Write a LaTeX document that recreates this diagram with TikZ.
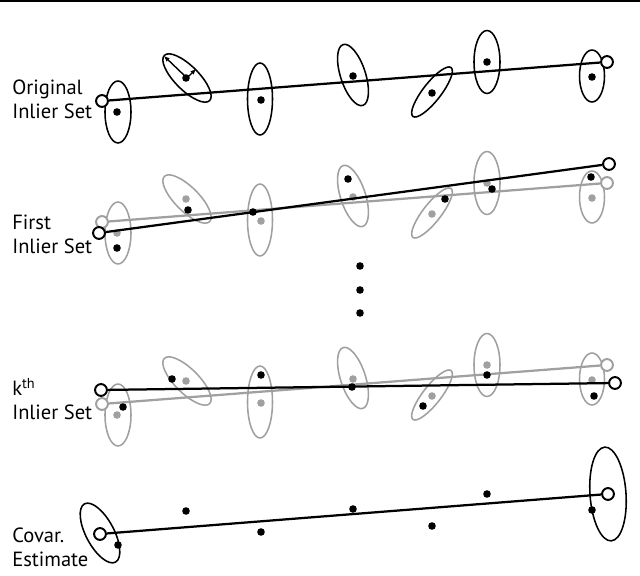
\documentclass[tikz,border=0pt]{standalone}
\usepackage{fontspec}
\setmainfont{PT Sans}
\usepackage{tikz}
\usetikzlibrary{arrows.meta}
\definecolor{oldgray}{HTML}{A0A0A0}
\tikzset{
  covell/.style={
    draw=black,
    line width=1.1pt
  },
  oldcovell/.style={
    covell,
    draw=oldgray
  },
  inlier/.style={
    circle,
    fill=black,
    inner sep=0pt,
    minimum size=5.4pt
  },
  oldinlier/.style={
    inlier,
    fill=oldgray
  },
  endpt/.style={
    circle,
    draw=black,
    fill=white,
    line width=1.4pt,
    inner sep=0pt,
    minimum size=8.4pt
  },
  oldendpt/.style={
    endpt,
    draw=oldgray
  },
  fitline/.style={
    line width=1.6pt,
    draw=black
  },
  oldfitline/.style={
    fitline,
    draw=oldgray
  },
  rowlabel/.style={
    anchor=base west,
    align=left,
    inner sep=0pt,
    font=\fontsize{14.6}{17.5}\selectfont
  },
  axisarrow/.style={
    -{Latex[length=4pt,width=3.5pt]},
    line width=1pt
  }
}

\begin{document}
\begin{tikzpicture}[x=0.025cm, y=-0.025cm]
    \useasboundingbox (0,0) rectangle (640,576);
    \coordinate (ruleL) at (0,1);
    \coordinate (ruleR) at (640,1);
    \draw[line width=1.5pt] (ruleL) -- (ruleR);

    % row labels (placed at the baseline of their last line)
    \node[rowlabel] (lab1) at (12,119) {Original\\Inlier Set};
    \node[rowlabel] (lab2) at (12,254) {First\\Inlier Set};
    \node[rowlabel] (lab3) at (12,420) {k\textsuperscript{th}\\Inlier Set};
    \node[rowlabel] (lab4) at (12,567) {Covar.\\Estimate};

    % covariance ellipses of the original set, repeated in grey below
    \foreach \dy/\sty in {121/oldcovell, 303/oldcovell, 0/covell}
      \foreach \x/\y/\rx/\ry/\ang in {118/112/13/31/0, 187/78/12/32/45, 260/99/12.5/36/0,
          353/75/12.5/32/18, 432/92/9/31/-38, 487/62/13/31.5/0, 592/76/12.5/26/0}
        \draw[\sty, rotate around={\ang:(\x,\y+\dy)}] (\x,\y+\dy) ellipse [x radius=\rx, y radius=\ry];

    % old fits in grey
    \node[oldendpt] (f0L) at (102,222) {};
    \node[oldendpt] (f0R) at (607,183) {};
    \draw[oldfitline] (f0L) -- (f0R);
    \node[oldendpt] (k0L) at (102,404) {};
    \node[oldendpt] (k0R) at (607,365) {};
    \draw[oldfitline] (k0L) -- (k0R);

    % original inliers
    \foreach \x/\y [count=\i] in {117/112, 186/78, 261/100, 353/76, 432/93, 487/62, 592/77} {
        \node[inlier] (o\i) at (\x,\y) {};
        \node[oldinlier] (fo\i) at (\x,\y+121) {};
        \node[oldinlier] (ko\i) at (\x,\y+303) {};
    }

    % axes of one ellipse
    \coordinate (e2c) at (187,78);
    \coordinate (e2major) at (164,56);
    \coordinate (e2minor) at (196,69);
    \draw[axisarrow] (e2c) -- (e2major);
    \draw[axisarrow] (e2c) -- (e2minor);

    \node[endpt] (oL) at (102,101) {};
    \node[endpt] (oR) at (607,62) {};
    \draw[fitline] (oL) -- (oR);

    % first inlier set
    \foreach \x/\y [count=\i] in {117/248, 188/210, 253/212, 348/179, 445/199, 492/189, 591/177}
        \node[inlier] (f\i) at (\x,\y) {};
    \node[endpt] (fL) at (99,233) {};
    \node[endpt] (fR) at (609,164) {};
    \draw[fitline] (fL) -- (fR);

    % dots between the rows
    \foreach \y [count=\i] in {266, 290, 313}
        \node[inlier] (gap\i) at (360,\y) {};

    % kth inlier set
    \foreach \x/\y [count=\i] in {123/407, 172/379, 261/375, 352/387, 423/406, 487/375, 594/396}
        \node[inlier] (k\i) at (\x,\y) {};
    \node[endpt] (kL) at (101,390) {};
    \node[endpt] (kR) at (615,383) {};
    \draw[fitline] (kL) -- (kR);

    % covariance estimate
    \draw[covell, rotate around={28:(100,533)}] (100,533) ellipse [x radius=14, y radius=33];
    \draw[covell, rotate around={4:(608,494)}] (608,494) ellipse [x radius=18, y radius=47];
    \foreach \x/\y [count=\i] in {118/545, 186/511, 261/532, 353/509, 432/526, 487/494, 592/510}
        \node[inlier] (c\i) at (\x,\y) {};
    \node[endpt] (cL) at (100,534) {};
    \node[endpt] (cR) at (608,494) {};
    \draw[fitline] (cL) -- (cR);
\end{tikzpicture}
\end{document}
